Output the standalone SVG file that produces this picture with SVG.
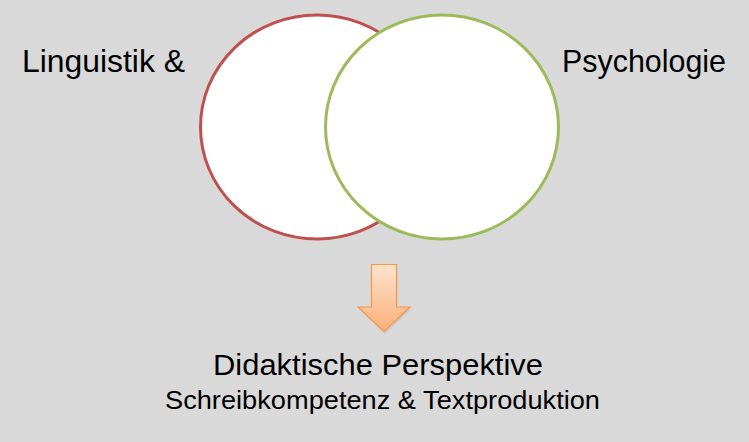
<svg xmlns="http://www.w3.org/2000/svg" width="749" height="442" viewBox="0 0 749 442">
<style>
.lbl{font-family:"Liberation Sans",Arial,sans-serif;fill:#000}
.c{fill:#fff;stroke-width:3}
</style>
<defs>
<linearGradient id="ag" x1="0" y1="0" x2="0" y2="1">
<stop offset="0" stop-color="#fde3cd"/>
<stop offset="1" stop-color="#fab07a"/>
</linearGradient>
</defs>
<rect width="749" height="442" fill="#d9d9d9"/>
<g id="linguistik">
<ellipse class="c" cx="317" cy="127" rx="116.5" ry="112" stroke="#c0504d"/>
<text class="lbl" x="22" y="72" font-size="32" textLength="163" lengthAdjust="spacingAndGlyphs">Linguistik &amp;</text>
</g>
<g id="psychologie">
<ellipse class="c" cx="442" cy="127" rx="116.5" ry="112" stroke="#9bbb59"/>
<text class="lbl" x="562" y="72" font-size="32" textLength="164" lengthAdjust="spacingAndGlyphs">Psychologie</text>
</g>
<g id="connectors">
<path d="M371.5,265.5 L396.5,265.5 L396.5,307 L410,307 L384,332 L358,307 L371.5,307 Z" fill="#000" opacity="0.08" transform="translate(1,2)"/>
<path d="M371.5,264.5 L396.5,264.5 L396.5,307 L410,307 L384,331.5 L358,307 L371.5,307 Z" fill="url(#ag)" stroke="#f79646" stroke-width="1.2" stroke-linejoin="miter"/>
</g>
<g id="didaktik">
<text class="lbl" x="378" y="375" font-size="30" text-anchor="middle" textLength="330" lengthAdjust="spacingAndGlyphs">Didaktische Perspektive</text>
<text class="lbl" x="382.5" y="409" font-size="26" text-anchor="middle" textLength="435" lengthAdjust="spacingAndGlyphs">Schreibkompetenz &amp; Textproduktion</text>
</g>
</svg>
